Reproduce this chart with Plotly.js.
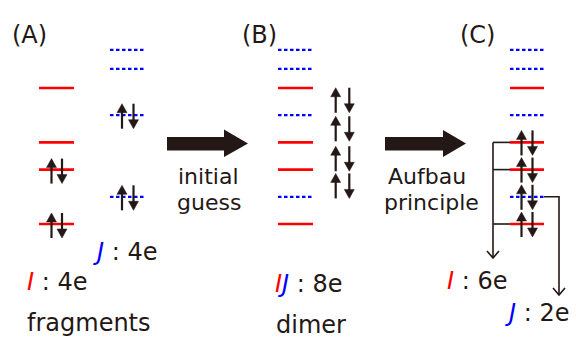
<!DOCTYPE html>
<html><head><meta charset="utf-8">
<script src="https://cdn.plot.ly/plotly-3.0.1.min.js"></script>
<style>html,body{margin:0;padding:0;background:#fff}#chart{width:576px;height:341px}</style>
</head><body><div id="chart"></div>
<script>
// ---- data (schematic orbital energies, arbitrary units) ----
const fragI_levels = [0, 2, 3, 5];
const fragJ_levels = [1, 4, 5.7, 6.4];
const fragI_occ = [2, 2, 0, 0];
const fragJ_occ = [2, 2, 0, 0];
const guess_pairs = [4.55, 3.5, 2.4, 1.4];      // initial-guess electron pairs (dimer, panel B)
const aufbau_I = [0, 2, 3];                     // I levels filled by Aufbau (panel C)
const aufbau_J = [1];                           // J levels filled by Aufbau (panel C)
const panel_labels = ["(A)", "(B)", "(C)"];
const step_labels = [["initial", "guess"], ["Aufbau", "principle"]];
const count_labels = ["I : 4e", "J : 4e", "IJ : 8e", "I : 6e", "J : 2e"];
const caption_labels = ["fragments", "dimer"];

// ---- layout helpers ----
const PXU = 27.2, E0PX = 224;
const ey = px => (E0PX - px) / PXU;     // pixel row -> energy
const epx = e => E0PX - e * PXU;         // energy -> pixel row
const K = '#231815', RED = '#ff0000', BLUE = '#0000ff';
const HL = 9, HW = 10;

const traces = [];
function levelTrace(levels, x0, x1, kind) {
  const x = [], y = [];
  levels.forEach(e => { x.push(x0, x1, null); y.push(e, e, null); });
  traces.push({x, y, mode: 'lines', hoverinfo: 'skip', showlegend: false,
    line: kind === 'I' ? {color: RED, width: 2.6} : {color: BLUE, width: 2.2, dash: '3.5px,2.5px'}});
}
const shafts = {x: [], y: []}, heads = {x: [], y: []};
function arrowPx(x, yTail, yTip) {
  const dir = Math.sign(yTip - yTail);
  const base = yTip - dir * HL;
  shafts.x.push(x, x, null); shafts.y.push(ey(yTail), ey(base + dir), null);
  heads.x.push(x - HW / 2, x + HW / 2, x, x - HW / 2, null);
  heads.y.push(ey(base), ey(base), ey(yTip), ey(base), null);
}
function pairAt(px, xu, xd, a, b) {
  arrowPx(xu, px + a, px - b);
  arrowPx(xd, px - b, px + a);
}

// columns
const colA_I = [39, 74], colA_J = [110, 146], colB = [278, 313], colC = [510, 544];

// Panel A
levelTrace(fragI_levels, colA_I[0], colA_I[1], 'I');
levelTrace(fragJ_levels, colA_J[0], colA_J[1], 'J');
fragI_levels.forEach((e, i) => { if (fragI_occ[i] === 2) pairAt(epx(e) + 1, 51.5, 62, 13, 12); });
fragJ_levels.forEach((e, i) => { if (fragJ_occ[i] === 2) pairAt(epx(e) + 0.5, 122, 133.5, 13, 12); });

// Panel B
levelTrace(fragI_levels, colB[0], colB[1], 'I');
levelTrace(fragJ_levels, colB[0], colB[1], 'J');
guess_pairs.forEach(e => pairAt(epx(e), 335.7, 349.3, 12.5, 12.5));

// Panel C
levelTrace(fragI_levels, colC[0], colC[1], 'I');
levelTrace(fragJ_levels, colC[0], colC[1], 'J');
// brackets
const bx = {x: [], y: []};
const topI = Math.max(...aufbau_I);
const lx = 493;
bx.x.push(lx, lx, null); bx.y.push(topI, ey(258), null);
aufbau_I.forEach(e => { bx.x.push(lx, colC[0], null); bx.y.push(e, e, null); });
bx.x.push(lx - 6, lx, lx + 6, null); bx.y.push(ey(251), ey(258), ey(251), null);
const rx = 559;
aufbau_J.forEach(e => {
  bx.x.push(colC[1], rx, rx, null); bx.y.push(e, e, ey(295), null);
});
bx.x.push(rx - 6, rx, rx + 6, null); bx.y.push(ey(288), ey(295), ey(288), null);
traces.push({x: bx.x, y: bx.y, mode: 'lines', line: {color: K, width: 1.6}, hoverinfo: 'skip', showlegend: false});
[...aufbau_I, ...aufbau_J].forEach(e => pairAt(epx(e), 521.5, 532.5, 13, 12));

traces.push({x: shafts.x, y: shafts.y, mode: 'lines', line: {color: K, width: 2.2}, hoverinfo: 'skip', showlegend: false});
traces.push({x: heads.x, y: heads.y, mode: 'lines', fill: 'toself', fillcolor: K, line: {color: K, width: 0.5}, hoverinfo: 'skip', showlegend: false});

// ---- annotations ----
const F = {family: 'DejaVu Sans', size: 24, color: K};
const F2 = {family: 'DejaVu Sans', size: 22, color: K};
const ann = (text, x, y, xa, f) => ({text, x, y, xref: 'x', yref: 'y2', showarrow: false, font: f || F, xanchor: xa || 'center', yanchor: 'middle', borderpad: 0});
const colorize = s => s.replace(/^IJ/, '<i><span style="color:' + RED + '">I</span><span style="color:' + BLUE + '">J</span></i>')
  .replace(/^I /, '<i><span style="color:' + RED + '">I</span></i> ')
  .replace(/^J /, '<i><span style="color:' + BLUE + '">J</span></i> ');
const annotations = [
  ann(panel_labels[0], 29, 35), ann(panel_labels[1], 259, 35), ann(panel_labels[2], 477.5, 35),
  ann(step_labels[0][0], 208.5, 176, 'center', F2), ann(step_labels[0][1], 209, 202.5, 'center', F2),
  ann(step_labels[1][0], 427, 176, 'center', F2), ann(step_labels[1][1], 431, 202.5, 'center', F2),
  ann(colorize(count_labels[1]), 92, 252, 'left'),
  ann(colorize(count_labels[0]), 26, 282, 'left'),
  ann(colorize(count_labels[2]), 274, 284, 'left'),
  ann(colorize(count_labels[3]), 446, 281, 'left'),
  ann(colorize(count_labels[4]), 504, 313, 'left'),
  ann(caption_labels[0], 26, 323, 'left'),
  ann(caption_labels[1], 275, 325, 'left')
];

const shapes = [
  {type: 'path', xref: 'x', yref: 'y2', path: 'M167,137 L224,137 L224,129.5 L248,143.5 L224,157 L224,150.5 L167,150.5 Z', fillcolor: K, line: {width: 0}},
  {type: 'path', xref: 'x', yref: 'y2', path: 'M385,137 L443,137 L443,130 L466,143.5 L443,157 L443,150.5 L385,150.5 Z', fillcolor: K, line: {width: 0}}
];

const layout = {
  width: 576, height: 341, margin: {l: 0, r: 0, t: 0, b: 0},
  paper_bgcolor: '#fff', plot_bgcolor: '#fff', showlegend: false,
  xaxis: {range: [0, 576], visible: false, fixedrange: true},
  yaxis: {range: [ey(341), ey(0)], visible: false, fixedrange: true},
  yaxis2: {range: [341, 0], overlaying: 'y', visible: false, fixedrange: true},
  annotations, shapes
};
Plotly.newPlot('chart', traces, layout, {staticPlot: true, displayModeBar: false});
</script></body></html>
